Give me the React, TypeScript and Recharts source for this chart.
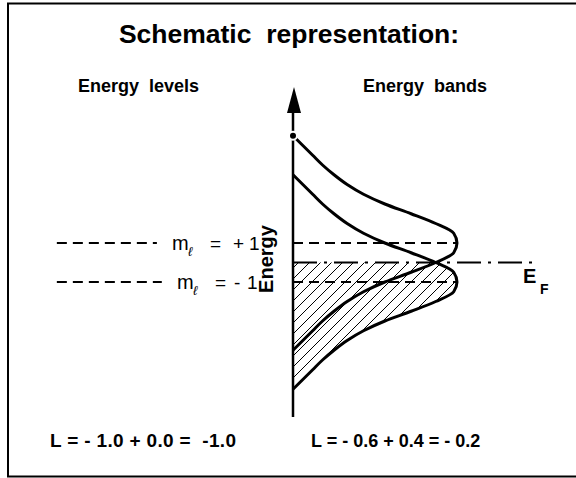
import { Area, ComposedChart, Line, ReferenceLine, XAxis, YAxis } from "recharts";

// energy grid (units: level spacing / 2), top to bottom
const energies = [
  6.5, 6.0, 5.5, 5.0, 4.5, 4.0, 3.5, 3.0, 2.5, 2.0, 1.5, 1.0, 0.5, 0.0,
  -0.5, -1.0, -1.5, -2.0, -2.5, -3.0, -3.5, -4.0, -4.5, -5.0, -5.5, -6.0, -6.5,
];
// density of states of the m = +1 band
const bandPlus = [
  0, 0.06, 0.12, 0.18, 0.25, 0.33, 0.43, 0.56, 0.72, 0.87, 0.98, 1.0, 0.98, 0.87,
  0.72, 0.56, 0.43, 0.33, 0.25, 0.18, 0.12, 0.06, 0, null, null, null, null,
];
// density of states of the m = -1 band
const bandMinus = [
  null, null, null, null, 0, 0.06, 0.12, 0.18, 0.25, 0.33, 0.43, 0.56, 0.72, 0.87,
  0.98, 1.0, 0.98, 0.87, 0.72, 0.56, 0.43, 0.33, 0.25, 0.18, 0.12, 0.06, 0,
];
// filled states below E_F
const occupied = [
  null, null, null, null, null, null, null, null, null, null, null, null, null, 0.87,
  0.98, 1.0, 0.98, 0.87, 0.72, 0.56, 0.43, 0.33, 0.25, 0.18, 0.12, 0.06, 0,
];

const levelPlus = 1;
const levelMinus = -1;
const fermiLevel = 0;
const axisRange = [-7.92, 8.3];
const levelLeft = [-1.44, -0.8];
const levelRight = [0, 1.0];
const fermiRight = 1.494;

const title = "Schematic  representation:";
const leftHeading = "Energy  levels";
const rightHeading = "Energy  bands";
const leftSum = "L = - 1.0 + 0.0 =  -1.0";
const rightSum = "L = - 0.6 + 0.4 = - 0.2";

const data = energies.map((e, i) => ({
  e,
  plus: bandPlus[i],
  minus: bandMinus[i],
  occ: occupied[i],
}));

const W = 576;
const H = 478;
const FONT = "'Liberation Sans', Arial, sans-serif";

export default function App() {
  return (
    <div style={{ position: "absolute", left: 0, top: 0, width: W, height: H, background: "#fff" }}>
      <ComposedChart
        width={W}
        height={H}
        data={data}
        layout="vertical"
        margin={{ top: 0, right: 0, bottom: 0, left: 0 }}
      >
        <defs>
          <pattern id="hatch" patternUnits="userSpaceOnUse" width="11" height="11">
            <path d="M0,11 L11,0 M-2,2 L2,-2 M9,13 L13,9" stroke="#000" strokeWidth={1} />
          </pattern>
        </defs>
        <XAxis type="number" domain={[-293 / 164, 283 / 164]} allowDataOverflow hide />
        <YAxis
          type="number"
          dataKey="e"
          domain={[-(H - 262.5) / 19.5, 262.5 / 19.5]}
          allowDataOverflow
          reversed
          hide
        />
        <Area
          dataKey="occ"
          type="monotone"
          baseValue={0}
          fill="url(#hatch)"
          fillOpacity={1}
          stroke="none"
          isAnimationActive={false}
        />
        <ReferenceLine
          segment={[{ x: levelLeft[0], y: levelPlus }, { x: levelLeft[1] - 0.03, y: levelPlus }]}
          stroke="#000"
          strokeWidth={2}
          strokeDasharray="10 6"
        />
        <ReferenceLine
          segment={[{ x: levelLeft[0], y: levelMinus }, { x: levelLeft[1], y: levelMinus }]}
          stroke="#000"
          strokeWidth={2}
          strokeDasharray="10 6"
        />
        <ReferenceLine
          segment={[{ x: levelRight[0], y: levelPlus }, { x: levelRight[1], y: levelPlus }]}
          stroke="#000"
          strokeWidth={2}
          strokeDasharray="10 6"
        />
        <ReferenceLine
          segment={[{ x: levelRight[0], y: levelMinus }, { x: levelRight[1], y: levelMinus }]}
          stroke="#000"
          strokeWidth={2}
          strokeDasharray="10 6"
        />
        <ReferenceLine
          segment={[{ x: 0, y: fermiLevel }, { x: fermiRight, y: fermiLevel }]}
          stroke="#000"
          strokeWidth={2}
          strokeDasharray="24 7 3 7"
        />
        <Line dataKey="plus" type="monotone" stroke="#000" strokeWidth={3} dot={false} isAnimationActive={false} />
        <Line dataKey="minus" type="monotone" stroke="#000" strokeWidth={3} dot={false} isAnimationActive={false} />
        <ReferenceLine
          segment={[{ x: 0, y: axisRange[0] }, { x: 0, y: axisRange[1] }]}
          stroke="#000"
          strokeWidth={2.5}
        />
      </ComposedChart>

      <svg
        width={W}
        height={H}
        style={{ position: "absolute", left: 0, top: 0, pointerEvents: "none" }}
        fontFamily={FONT}
      >
        <rect x={8} y={3.5} width={W} height={473} fill="none" stroke="#000" strokeWidth={2} />
        <polygon points="294,87 287,113 301,113" fill="#000" />

        <text x={289} y={43} textAnchor="middle" fontSize={26.5} fontWeight="bold" xmlSpace="preserve">
          {title}
        </text>
        <text x={78} y={92} fontSize={18} fontWeight="bold" xmlSpace="preserve">{leftHeading}</text>
        <text x={363} y={92} fontSize={18} fontWeight="bold" xmlSpace="preserve">{rightHeading}</text>

        <text x={172} y={250} fontSize={20}>m</text>
        <text x={188} y={256} fontSize={13} fontStyle="italic">ℓ</text>
        <text x={210} y={250} fontSize={19}>=</text>
        <text x={233} y={250} fontSize={19}>+</text>
        <text x={249} y={250} fontSize={19}>1</text>

        <text x={177} y={289} fontSize={20}>m</text>
        <text x={193} y={295} fontSize={13} fontStyle="italic">ℓ</text>
        <text x={215} y={289} fontSize={19}>=</text>
        <text x={234} y={289} fontSize={19}>-</text>
        <text x={247} y={289} fontSize={19}>1</text>

        <text
          x={273}
          y={259}
          fontSize={20}
          fontWeight="bold"
          textAnchor="middle"
          transform="rotate(-90 273 259)"
        >
          Energy
        </text>

        <text x={523} y={283} fontSize={20} fontWeight="bold">E</text>
        <text x={540} y={294} fontSize={14} fontWeight="bold">F</text>

        <text x={50} y={447} fontSize={19} fontWeight="bold" xmlSpace="preserve" textLength={186} lengthAdjust="spacing">
          {leftSum}
        </text>
        <text x={311} y={447} fontSize={18} fontWeight="bold" xmlSpace="preserve">
          {rightSum}
        </text>
      </svg>
    </div>
  );
}
